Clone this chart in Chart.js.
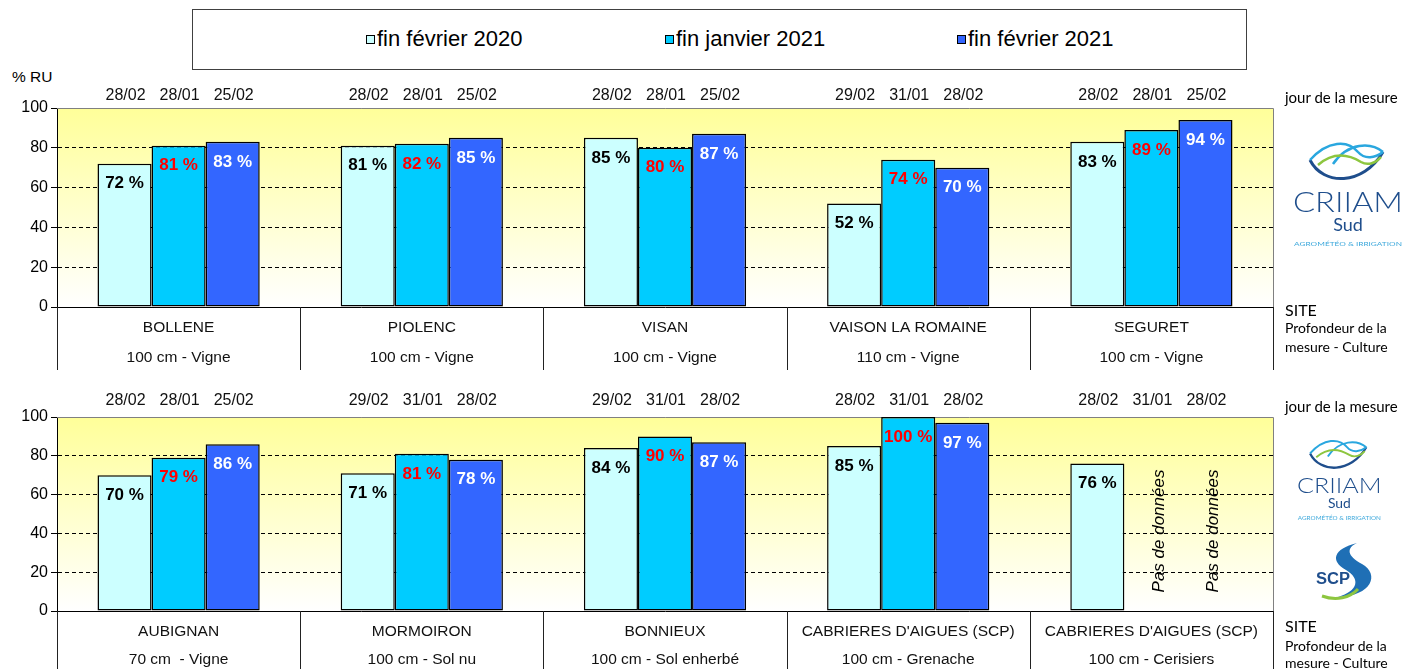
<!DOCTYPE html>
<html>
<head>
<meta charset="utf-8">
<script src="https://cdn.jsdelivr.net/npm/chart.js@4.4.0/dist/chart.umd.min.js"></script>
<style>
body { margin:0; background:#fff; width:1413px; height:669px; overflow:hidden; position:relative; font-family:Arial, "Liberation Sans", sans-serif; }
canvas { position:absolute; left:0; }
#legend { position:absolute; left:192px; top:9px; width:1055px; height:61px; border:1px solid #404040; box-sizing:border-box; }
.item { position:absolute; top:16px; font-size:22px; line-height:26px; color:#000; white-space:nowrap; }
.item i { display:inline-block; width:7px; height:7px; border:1px solid #000; margin-right:2px; vertical-align:2px; }
.side { position:absolute; left:1285px; font-family:Lato, "Noto Sans", sans-serif; color:#000; white-space:nowrap; }
#ru { position:absolute; left:12px; top:68px; font-size:15.5px; }
</style>
</head>
<body>
<div id="legend"></div>
<div id="ru">% RU</div>
<canvas id="top" width="1413" height="300" style="top:80px"></canvas>
<canvas id="bottom" width="1413" height="289" style="top:380px"></canvas>

<div class="side" style="top:88px;font-size:15px">jour de la mesure</div>
<div class="side" style="top:300px;font-size:16px">SITE</div>
<div class="side" style="top:319px;font-size:14px">Profondeur de la</div>
<div class="side" style="top:338px;font-size:14px">mesure - Culture</div>
<div class="side" style="top:397px;font-size:15px">jour de la mesure</div>
<div class="side" style="top:616px;font-size:16px">SITE</div>
<div class="side" style="top:637px;font-size:14px">Profondeur de la</div>
<div class="side" style="top:654px;font-size:14px">mesure - Culture</div>

<svg width="1413" height="669" style="position:absolute;left:0;top:0;pointer-events:none">
  <defs>
    <g id="criiam">
      <path d="M17,20 C30,46 70,46 90,12" stroke="#1f4e8c" stroke-width="3" fill="none"/>
      <path d="M17,20 C35,0 55,0 65,12 C72,20 82,18 90,12" stroke="#2aa7df" stroke-width="2.5" fill="none"/>
      <path d="M40,24 C55,2 78,2 90,12" stroke="#2aa7df" stroke-width="2.5" fill="none"/>
      <path d="M25,25 C40,12 55,14 68,22 C75,26 83,23 88,17" stroke="#8dc63f" stroke-width="2.5" fill="none"/>
      <text x="55" y="72" text-anchor="middle" font-family="Lato" font-weight="300" font-size="27" fill="#1f4e8c" textLength="110" lengthAdjust="spacingAndGlyphs">CRIIAM</text>
      <text x="55" y="91" text-anchor="middle" font-family="Lato" font-size="18" fill="#1f4e8c">Sud</text>
      <text x="55" y="106" text-anchor="middle" font-family="Lato" font-size="6" fill="#3fa9dc" textLength="108" lengthAdjust="spacingAndGlyphs">AGROMÉTÉO &amp; IRRIGATION</text>
    </g>
  </defs>
  <use href="#criiam" transform="translate(1293,140)"/>
  <use href="#criiam" transform="translate(1297,438) scale(0.77)"/>
  <path d="M1357,543 C1333,549 1330,561 1346,570 C1361,579 1358,591 1338,597 C1372,596 1380,574 1362,564 C1347,556 1346,548 1357,543 Z" fill="#1f6fb5"/>
  <text x="1316" y="584" font-family="Arial" font-weight="bold" font-size="16" fill="#1f4e8c" textLength="34" lengthAdjust="spacingAndGlyphs">SCP</text>
  <path d="M1322,596 C1336,601 1350,598 1358,589" stroke="#8dc63f" stroke-width="3" fill="none"/>
</svg>

<script>
// series
const seriesNames = ['fin février 2020', 'fin janvier 2021', 'fin février 2021'];
const seriesColors = ['#CCFFFF', '#00CCFF', '#3366FF'];
const labelColors = ['#000000', '#FF0000', '#FFFFFF'];

// top chart
const sitesTop = ['BOLLENE', 'PIOLENC', 'VISAN', 'VAISON LA ROMAINE', 'SEGURET'];
const depthsTop = ['100 cm - Vigne', '100 cm - Vigne', '100 cm - Vigne', '110 cm - Vigne', '100 cm - Vigne'];
const feb2020Top = [72, 81, 85, 52, 83];
const jan2021Top = [81, 82, 80, 74, 89];
const feb2021Top = [83, 85, 87, 70, 94];
const datesFeb2020Top = ['28/02', '28/02', '28/02', '29/02', '28/02'];
const datesJan2021Top = ['28/01', '28/01', '28/01', '31/01', '28/01'];
const datesFeb2021Top = ['25/02', '25/02', '25/02', '28/02', '25/02'];

// bottom chart
const sitesBottom = ['AUBIGNAN', 'MORMOIRON', 'BONNIEUX', "CABRIERES D'AIGUES (SCP)", "CABRIERES D'AIGUES (SCP)"];
const depthsBottom = ['70 cm  - Vigne', '100 cm - Sol nu', '100 cm - Sol enherbé', '100 cm - Grenache', '100 cm - Cerisiers'];
const feb2020Bottom = [70, 71, 84, 85, 76];
const jan2021Bottom = [79, 81, 90, 100, null];
const feb2021Bottom = [86, 78, 87, 97, null];
const datesFeb2020Bottom = ['28/02', '29/02', '29/02', '28/02', '28/02'];
const datesJan2021Bottom = ['28/01', '31/01', '31/01', '31/01', '31/01'];
const datesFeb2021Bottom = ['25/02', '28/02', '28/02', '28/02', '28/02'];

const yTicks = [0, 20, 40, 60, 80, 100];
const noData = 'Pas de données';

// legend box
const legendX = [366, 665, 957];
const legend = document.getElementById('legend');
seriesNames.forEach((name, d) => {
  const el = document.createElement('div');
  el.className = 'item';
  el.style.left = (legendX[d] - 193) + 'px';
  el.innerHTML = '<i style="background:' + seriesColors[d] + '"></i>' + name;
  legend.appendChild(el);
});

// background, borders, separators, dates and value labels
function makeDecor(o) {
  return {
    id: 'decor',
    beforeDraw(chart) {
      const a = chart.chartArea, ctx = chart.ctx;
      const g = ctx.createLinearGradient(0, a.top, 0, a.bottom);
      g.addColorStop(0, '#FFFF99');
      g.addColorStop(1, '#FFFFFF');
      ctx.save();
      ctx.fillStyle = g;
      ctx.fillRect(a.left, a.top, a.right - a.left, a.bottom - a.top);
      ctx.restore();
    },
    beforeDatasetsDraw(chart) {
      const a = chart.chartArea, ctx = chart.ctx;
      ctx.save();
      ctx.strokeStyle = '#808080';
      ctx.lineWidth = 1;
      ctx.beginPath();
      ctx.moveTo(a.left, a.top + 0.5);
      ctx.lineTo(a.right + 0.5, a.top + 0.5);
      ctx.lineTo(a.right + 0.5, a.bottom);
      ctx.stroke();
      ctx.restore();
    },
    afterDraw(chart) {
      const a = chart.chartArea, ctx = chart.ctx, x = chart.scales.x;
      const n = chart.data.labels.length;
      const w = x.getPixelForValue(1) - x.getPixelForValue(0);
      const x0 = x.getPixelForValue(0) - w / 2;
      ctx.save();
      ctx.strokeStyle = '#222';
      ctx.lineWidth = 1;
      for (let k = 0; k <= n; k++) {
        const px = Math.round(x0 + k * w) + 0.5;
        ctx.beginPath();
        ctx.moveTo(px, a.bottom);
        ctx.lineTo(px, a.bottom + o.sep);
        ctx.stroke();
      }
      chart.data.datasets.forEach((ds, d) => {
        const meta = chart.getDatasetMeta(d);
        meta.data.forEach((el, i) => {
          ctx.textAlign = 'center';
          ctx.textBaseline = 'middle';
          ctx.fillStyle = '#111';
          ctx.font = '16px Arial';
          ctx.fillText(o.dates[d][i], el.x + 1, a.top + o.dateDy);
          const v = ds.data[i];
          if (v == null) {
            ctx.save();
            ctx.translate(el.x + 8, a.bottom - 80);
            ctx.rotate(-Math.PI / 2);
            ctx.font = 'italic 17px Arial';
            ctx.fillStyle = '#000';
            ctx.fillText(noData, 0, 0);
            ctx.restore();
          } else {
            ctx.font = 'bold 17px Arial';
            ctx.fillStyle = labelColors[d];
            ctx.fillText(v + ' %', el.x, el.y + 20);
          }
        });
      });
      ctx.restore();
    }
  };
}

function makeChart(id, sites, depths, values, dates, o) {
  o.dates = dates;
  return new Chart(document.getElementById(id), {
    type: 'bar',
    data: {
      labels: sites.map((s, i) => [s, depths[i]]),
      datasets: seriesNames.map((name, d) => ({
        label: name,
        data: values[d],
        backgroundColor: seriesColors[d],
        borderColor: '#000',
        borderWidth: 1.5,
        borderSkipped: false,
        barPercentage: 1,
        categoryPercentage: 0.667
      }))
    },
    options: {
      responsive: false,
      animation: false,
      layout: { padding: { left: 0, right: 140, top: o.top, bottom: 0 } },
      plugins: {
        legend: { display: false },
        tooltip: { enabled: false }
      },
      scales: {
        x: {
          grid: { display: false },
          border: { color: '#000', width: 1 },
          ticks: {
            font: { family: 'Arial', size: 15.5, lineHeight: o.lh },
            color: '#111',
            padding: o.labPad,
            autoSkip: false,
            maxRotation: 0
          },
          afterFit: s => { s.height = o.xh; }
        },
        y: {
          min: 0,
          max: 100,
          afterBuildTicks: s => { s.ticks = yTicks.map(v => ({ value: v })); },
          ticks: { font: { family: 'Arial', size: 16 }, color: '#000', padding: 3 },
          grid: {
            color: c => (c.tick && c.tick.value > 0 && c.tick.value < 100) ? '#000' : 'rgba(0,0,0,0)',
            tickColor: '#000',
            tickLength: 6,
            tickBorderDash: []
          },
          border: { color: '#000', width: 1, dash: [4, 3] },
          afterFit: s => { s.width = 57; }
        }
      }
    },
    plugins: [makeDecor(o)]
  });
}

makeChart('top', sitesTop, depthsTop,
  [feb2020Top, jan2021Top, feb2021Top],
  [datesFeb2020Top, datesJan2021Top, datesFeb2021Top],
  { top: 28, xh: 73, lh: 30 / 15.5, labPad: -2, sep: 63, dateDy: -12 });

makeChart('bottom', sitesBottom, depthsBottom,
  [feb2020Bottom, jan2021Bottom, feb2021Bottom],
  [datesFeb2020Bottom, datesJan2021Bottom, datesFeb2021Bottom],
  { top: 37, xh: 58, lh: 28 / 15.5, labPad: -1, sep: 60, dateDy: -16 });
</script>
</body>
</html>
